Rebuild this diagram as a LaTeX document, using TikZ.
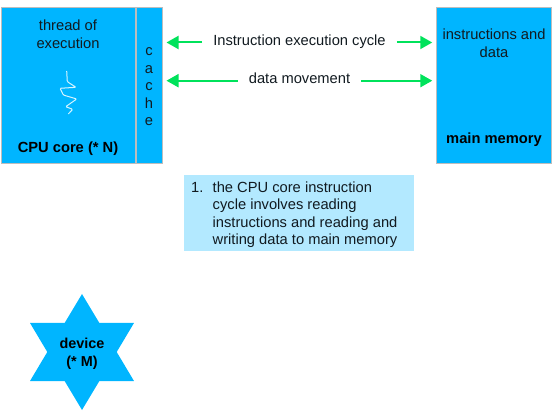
\documentclass[tikz,border=0pt]{standalone}
\usepackage{fontspec}
\setmainfont{Liberation Sans}
\usepackage{xcolor}
\definecolor{coreBlue}{HTML}{00B5FF}
\definecolor{noteBlue}{HTML}{B3E9FF}
\definecolor{edgeGray}{HTML}{BDBDBD}
\definecolor{flowGreen}{HTML}{00E25B}
\definecolor{threadWhite}{HTML}{D5F4FF}
\definecolor{darkText}{HTML}{111A20}
\usepackage{tikz}
\usetikzlibrary{
    shapes.geometric,
    arrows.meta
}
\tikzset{
    % Base style for all texts
    base text/.style={
        font=\fontsize{14.7}{17.5}\selectfont,
        align=center,
        text=darkText,
        inner sep=0pt,
    },
    % Bold captions inside the blocks
    caption text/.style={
        base text,
        font=\fontsize{14.7}{17.5}\selectfont\bfseries,
        text=black,
    },
    % Solid blue blocks
    block/.style={
        rectangle,
        fill=coreBlue,
        draw=edgeGray,
        line width=1pt,
        minimum height=156.5pt,
        inner sep=0pt,
    },
    % Pale numbered note
    note/.style={
        rectangle,
        fill=noteBlue,
        minimum width=230pt,
        minimum height=76pt,
    },
    % Labels sitting on the connectors
    flow label/.style={
        base text,
        inner xsep=11pt,
        text height=8.5pt,
        text depth=3pt,
    },
    % Green arrows
    arrow/.style={
        -{Triangle[length=12pt, width=13pt]},
        line width=2pt,
        draw=flowGreen,
        shorten >=3.5pt,
    },
}
\begin{document}
\begin{tikzpicture}[x=1pt, y=-1pt]
    \useasboundingbox (0,0) rectangle (560,414);

    \node (core) [block, minimum width=133.5pt] at (68.25,85.75) {};
    \node (cache) [block, minimum width=26pt] at (149.5,85.75) {};
    \node (memory) [block, minimum width=115.5pt] at (494,85.75) {};

    \node (thread) [base text] at (68,34) {thread of\\execution};
    \node (coreName) [caption text] at (68,148.5) {CPU core (* N)};
    \node (cacheName) [base text] at (149,87) {c\\a\\c\\h\\e};
    \node (contents) [base text] at (494,43) {instructions and\\data};
    \node (memoryName) [caption text] at (494,140) {main memory};

    \node (cycle) [flow label] at (299.5,42.5) {Instruction execution cycle};
    \node (movement) [flow label] at (299.5,80.7) {data movement};

    \draw [arrow] (cycle) -- (cycle -| cache.east);
    \draw [arrow] (cycle) -- (cycle -| memory.west);
    \draw [arrow] (movement) -- (movement -| cache.east);
    \draw [arrow] (movement) -- (movement -| memory.west);

    \node (steps) [note] at (299,213) {};
    \node (stepsText) [base text, align=left, anchor=west] at (191,214.5) {\makebox[21.5pt][l]{1.}the CPU core instruction\\
        \hspace*{21.5pt}cycle involves reading\\
        \hspace*{21.5pt}instructions and reading and\\
        \hspace*{21.5pt}writing data to main memory};

    \node (device) [star, star points=6, star point ratio=1.73, xscale=1.035,
        minimum size=116pt, inner sep=0pt, fill=coreBlue] at (82,352) {};
    \node (deviceName) [caption text, font=\fontsize{14.4}{17.5}\selectfont\bfseries] at (82,354) {device\\(* M)};

    % thread squiggle
    \draw [threadWhite, line width=1pt, rounded corners=1pt] (66.7,71) -- (67.3,81.7) -- (76,87.3) -- (60,88.3)
        -- (63.3,95) -- (76.7,99) -- (65.7,106.7) -- (72.7,109.3) -- (68.3,114);
\end{tikzpicture}
\end{document}
